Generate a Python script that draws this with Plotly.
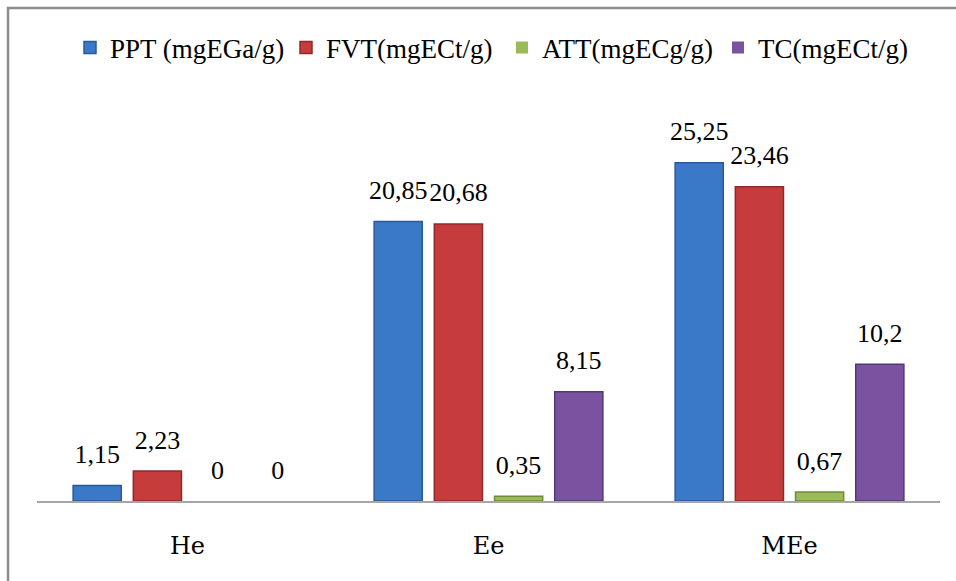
import plotly.graph_objects as go

categories = ["He", "Ee", "MEe"]
series_names = ["PPT (mgEGa/g)", "FVT(mgECt/g)", "ATT(mgECg/g)", "TC(mgECt/g)"]
ppt = [1.15, 20.85, 25.25]
fvt = [2.23, 20.68, 23.46]
att = [0, 0.35, 0.67]
tc = [0, 8.15, 10.2]
labels = {
    "PPT (mgEGa/g)": ["1,15", "20,85", "25,25"],
    "FVT(mgECt/g)": ["2,23", "20,68", "23,46"],
    "ATT(mgECg/g)": ["0", "0,35", "0,67"],
    "TC(mgECt/g)": ["0", "8,15", "10,2"],
}
values = [ppt, fvt, att, tc]
fills = ["#3a79c8", "#c63c3c", "#9bbb59", "#7a53a0"]
edges = ["#2a5a96", "#8e2a2a", "#6f8a3c", "#533873"]

FONT = "Times New Roman"
TICK_FONT = "DejaVu Serif"
label_gap = 1.0

fig = go.Figure()
for i, (name, vals) in enumerate(zip(series_names, values)):
    fig.add_trace(go.Bar(
        x=categories, y=vals, name=name, offsetgroup=str(i),
        marker=dict(color=fills[i],
                    line=dict(color=edges[i], width=[1.5 if v > 0 else 0 for v in vals])),
        hoverinfo="y",
    ))
for i, (name, vals) in enumerate(zip(series_names, values)):
    fig.add_trace(go.Bar(
        x=categories, y=[label_gap] * len(vals), base=vals, offsetgroup=str(i),
        marker=dict(color="rgba(0,0,0,0)", line=dict(width=0)),
        text=labels[name], textposition="outside", constraintext="none",
        textfont=dict(family=FONT, size=26, color="#000000"),
        showlegend=False, hoverinfo="skip", cliponaxis=False,
    ))

fig.update_layout(
    width=956, height=581,
    barmode="group", bargap=0.2, bargroupgap=0.2,
    paper_bgcolor="white", plot_bgcolor="white",
    margin=dict(l=37, r=16, t=99, b=80, autoexpand=False),
    font=dict(family=FONT, size=26, color="#000000"),
    legend=dict(orientation="h", x=70 / 956, xanchor="left", xref="container",
                y=1 - 48 / 581, yanchor="middle", yref="container",
                bgcolor="rgba(0,0,0,0)", entrywidth=171,
                font=dict(family=FONT, size=27), itemwidth=30, tracegroupgap=0),
    xaxis=dict(showline=True, linecolor="#a6a6a6", linewidth=2, ticks="",
               showgrid=False, tickfont=dict(family=TICK_FONT, size=24),
               ticklabelstandoff=22, automargin=False),
    yaxis=dict(range=[0, 30], visible=False, showgrid=False, zeroline=False,
               automargin=False),
    shapes=[dict(type="rect", xref="paper", yref="paper",
                 x0=-0.0321, x1=1.05, y0=-0.3, y1=1.2264,
                 line=dict(color="#8c8c8c", width=2.5), layer="below")],
)

post = """
document.body.style.margin = '0';
(function () {
  var gd = document.getElementById('{plot_id}');
  var cfg = {displayModeBar: false, responsive: true};
  try {
    ['Times New Roman', 'DejaVu Serif'].forEach(function (f) {
      var probe = document.createElement('span');
      probe.textContent = 'PPT He Ee MEe 20,85';
      probe.style.fontFamily = f;
      probe.style.fontSize = '26px';
      probe.style.position = 'absolute';
      probe.style.left = '100px';
      probe.style.top = '100px';
      probe.style.visibility = 'hidden';
      document.body.appendChild(probe);
      void probe.offsetWidth;
    });
  } catch (e) {}
  function redraw() {
    try { Plotly.newPlot(gd, gd.data, gd.layout, cfg); } catch (e) {}
  }
  redraw();
  setTimeout(redraw, 60);
  setTimeout(redraw, 300);
})();
"""

fig.write_html("out.html", config={"displayModeBar": False}, post_script=post)
